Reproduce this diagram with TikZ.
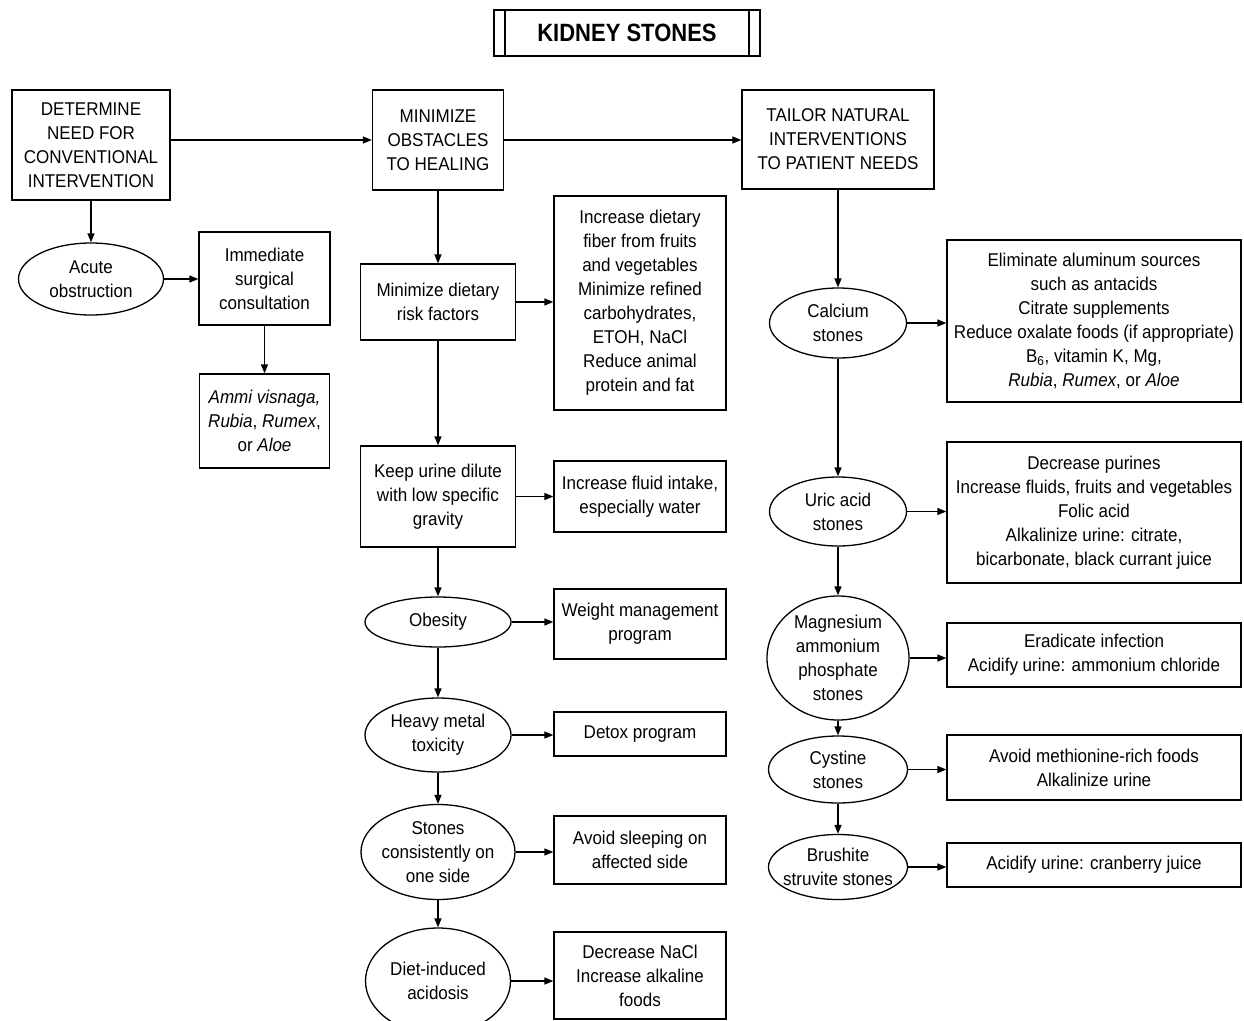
\documentclass[tikz,border=0pt]{standalone}
\usepackage{fontspec}
\setmainfont[FakeStretch=0.92]{Liberation Sans}
\newfontfamily\titlefont[FakeStretch=0.88]{Liberation Sans}
\usetikzlibrary{shapes.geometric,arrows.meta}
\tikzset{
  base/.style={draw, line width=1.3pt, align=center, font=\fontsize{18.5}{24}\selectfont, inner sep=0pt},
  rbox/.style={base, rectangle},
  ebox/.style={base, ellipse, inner xsep=-15pt, inner ysep=-8pt},
  arr/.style={-{Triangle[length=9pt,width=7pt]}, line width=1.3pt},
}
\begin{document}
\begin{tikzpicture}[x=1pt,y=-1pt]
\useasboundingbox (0,0) rectangle (1244,1020);
\clip (0,0) rectangle (1244,1020);
\fill[white] (0,0) rectangle (1244,1020);
% title
\node[draw, line width=1.3pt, minimum width=266pt, minimum height=46pt, inner sep=0pt, font=\titlefont\fontsize{25}{30}\selectfont\bfseries] (title) at (627,33) {KIDNEY STONES};
\draw[line width=1.3pt] (505,10) -- (505,56) (749,10) -- (749,56);
% top row
\node[rbox, minimum width=158pt, minimum height=110pt] (det) at (91,145) {DETERMINE\\NEED FOR\\CONVENTIONAL\\INTERVENTION};
\node[rbox, minimum width=131pt, minimum height=100pt] (mini) at (438,140) {MINIMIZE\\OBSTACLES\\TO HEALING};
\node[rbox, minimum width=192pt, minimum height=99pt] (tail) at (838,139.5) {TAILOR NATURAL\\INTERVENTIONS\\TO PATIENT NEEDS};
% left column
\node[ebox, minimum width=145pt, minimum height=72pt] (acute) at (91,279) {Acute\\obstruction};
\node[rbox, minimum width=131pt, minimum height=93pt] (imm) at (264.5,278.5) {Immediate\\surgical\\consultation};
\node[rbox, minimum width=130pt, minimum height=94pt] (ammi) at (264.5,421) {\itshape Ammi visnaga,\\\itshape Rubia\upshape, \itshape Rumex\upshape,\\or \itshape Aloe};
% middle column
\node[rbox, minimum width=155pt, minimum height=76pt] (diet) at (438,302) {Minimize dietary\\risk factors};
\node[rbox, minimum width=172pt, minimum height=214pt] (fiber) at (640,303) {Increase dietary\\fiber from fruits\\and vegetables\\Minimize refined\\carbohydrates,\\ETOH, NaCl\\Reduce animal\\protein and fat};
\node[rbox, minimum width=155pt, minimum height=101pt] (keep) at (438,496.5) {Keep urine dilute\\with low specific\\gravity};
\node[rbox, minimum width=172pt, minimum height=71pt] (fluid) at (640,496.5) {Increase fluid intake,\\especially water};
\node[ebox, minimum width=146pt, minimum height=50pt] (obes) at (438,622) {Obesity};
\node[rbox, minimum width=172pt, minimum height=70pt] (weight) at (640,624) {Weight management\\program};
\node[ebox, minimum width=146pt, minimum height=74pt] (heavy) at (438,735) {Heavy metal\\toxicity};
\node[rbox, minimum width=172pt, minimum height=44pt] (detox) at (640,734) {Detox program};
\node[ebox, minimum width=154pt, minimum height=95pt] (stones) at (438,852) {Stones\\consistently on\\one side};
\node[rbox, minimum width=172pt, minimum height=68pt] (avoid) at (640,850) {Avoid sleeping on\\affected side};
\node[ebox, minimum width=145pt, minimum height=106pt] (acid) at (438,981) {Diet-induced\\acidosis};
\node[rbox, minimum width=172pt, minimum height=87pt] (nacl) at (640,975.5) {Decrease NaCl\\Increase alkaline\\foods};
% right column
\node[ebox, minimum width=137pt, minimum height=70pt] (calc) at (838,323) {Calcium\\stones};
\node[rbox, minimum width=294pt, minimum height=162pt] (alum) at (1094,321) {Eliminate aluminum sources\\such as antacids\\Citrate supplements\\Reduce oxalate foods (if appropriate)\\B\textsubscript{6}, vitamin K, Mg,\\\itshape Rubia\upshape, \itshape Rumex\upshape, or \itshape Aloe};
\node[ebox, minimum width=137pt, minimum height=69pt] (uric) at (838,511.5) {Uric acid\\stones};
\node[rbox, minimum width=294pt, minimum height=141pt] (pur) at (1094,512.5) {Decrease purines\\Increase fluids, fruits and vegetables\\Folic acid\\Alkalinize urine: citrate,\\bicarbonate, black currant juice};
\node[ebox, minimum width=142pt, minimum height=124pt] (mg) at (838,658) {Magnesium\\ammonium\\phosphate\\stones};
\node[rbox, minimum width=294pt, minimum height=64pt] (erad) at (1094,655) {Eradicate infection\\Acidify urine: ammonium chloride};
\node[ebox, minimum width=139pt, minimum height=67pt] (cyst) at (838,769.5) {Cystine\\stones};
\node[rbox, minimum width=294pt, minimum height=65pt] (meth) at (1094,767.5) {Avoid methionine-rich foods\\Alkalinize urine};
\node[ebox, minimum width=139pt, minimum height=65pt] (brush) at (838,867) {Brushite\\struvite stones};
\node[rbox, minimum width=294pt, minimum height=44pt] (cran) at (1094,865) {Acidify urine: cranberry juice};
% connectors
\draw[arr] (det.east |- mini.west) -- (mini.west);
\draw[arr] (mini.east) -- (mini.east -| tail.west);
\draw[arr] (det.south -| acute.north) -- (acute.north);
\draw[arr] (acute.east) -- (acute.east -| imm.west);
\draw[arr] (imm.south) -- (ammi.north);
\draw[arr] (mini.south) -- (diet.north);
\draw[arr] (diet.east) -- (diet.east -| fiber.west);
\draw[arr] (diet.south) -- (keep.north);
\draw[arr] (keep.east) -- (keep.east -| fluid.west);
\draw[arr] (keep.south) -- (obes.north);
\draw[arr] (obes.east) -- (obes.east -| weight.west);
\draw[arr] (obes.south) -- (heavy.north);
\draw[arr] (heavy.east) -- (heavy.east -| detox.west);
\draw[arr] (heavy.south) -- (stones.north);
\draw[arr] (stones.east) -- (stones.east -| avoid.west);
\draw[arr] (stones.south) -- (acid.north);
\draw[arr] (acid.east) -- (acid.east -| nacl.west);
\draw[arr] (tail.south) -- (calc.north);
\draw[arr] (calc.east) -- (calc.east -| alum.west);
\draw[arr] (calc.south) -- (uric.north);
\draw[arr] (uric.east) -- (uric.east -| pur.west);
\draw[arr] (uric.south) -- (mg.north);
\draw[arr] (mg.east) -- (mg.east -| erad.west);
\draw[arr] (mg.south) -- (cyst.north);
\draw[arr] (cyst.east) -- (cyst.east -| meth.west);
\draw[arr] (cyst.south) -- (brush.north);
\draw[arr] (brush.east) -- (brush.east -| cran.west);
\end{tikzpicture}
\end{document}
